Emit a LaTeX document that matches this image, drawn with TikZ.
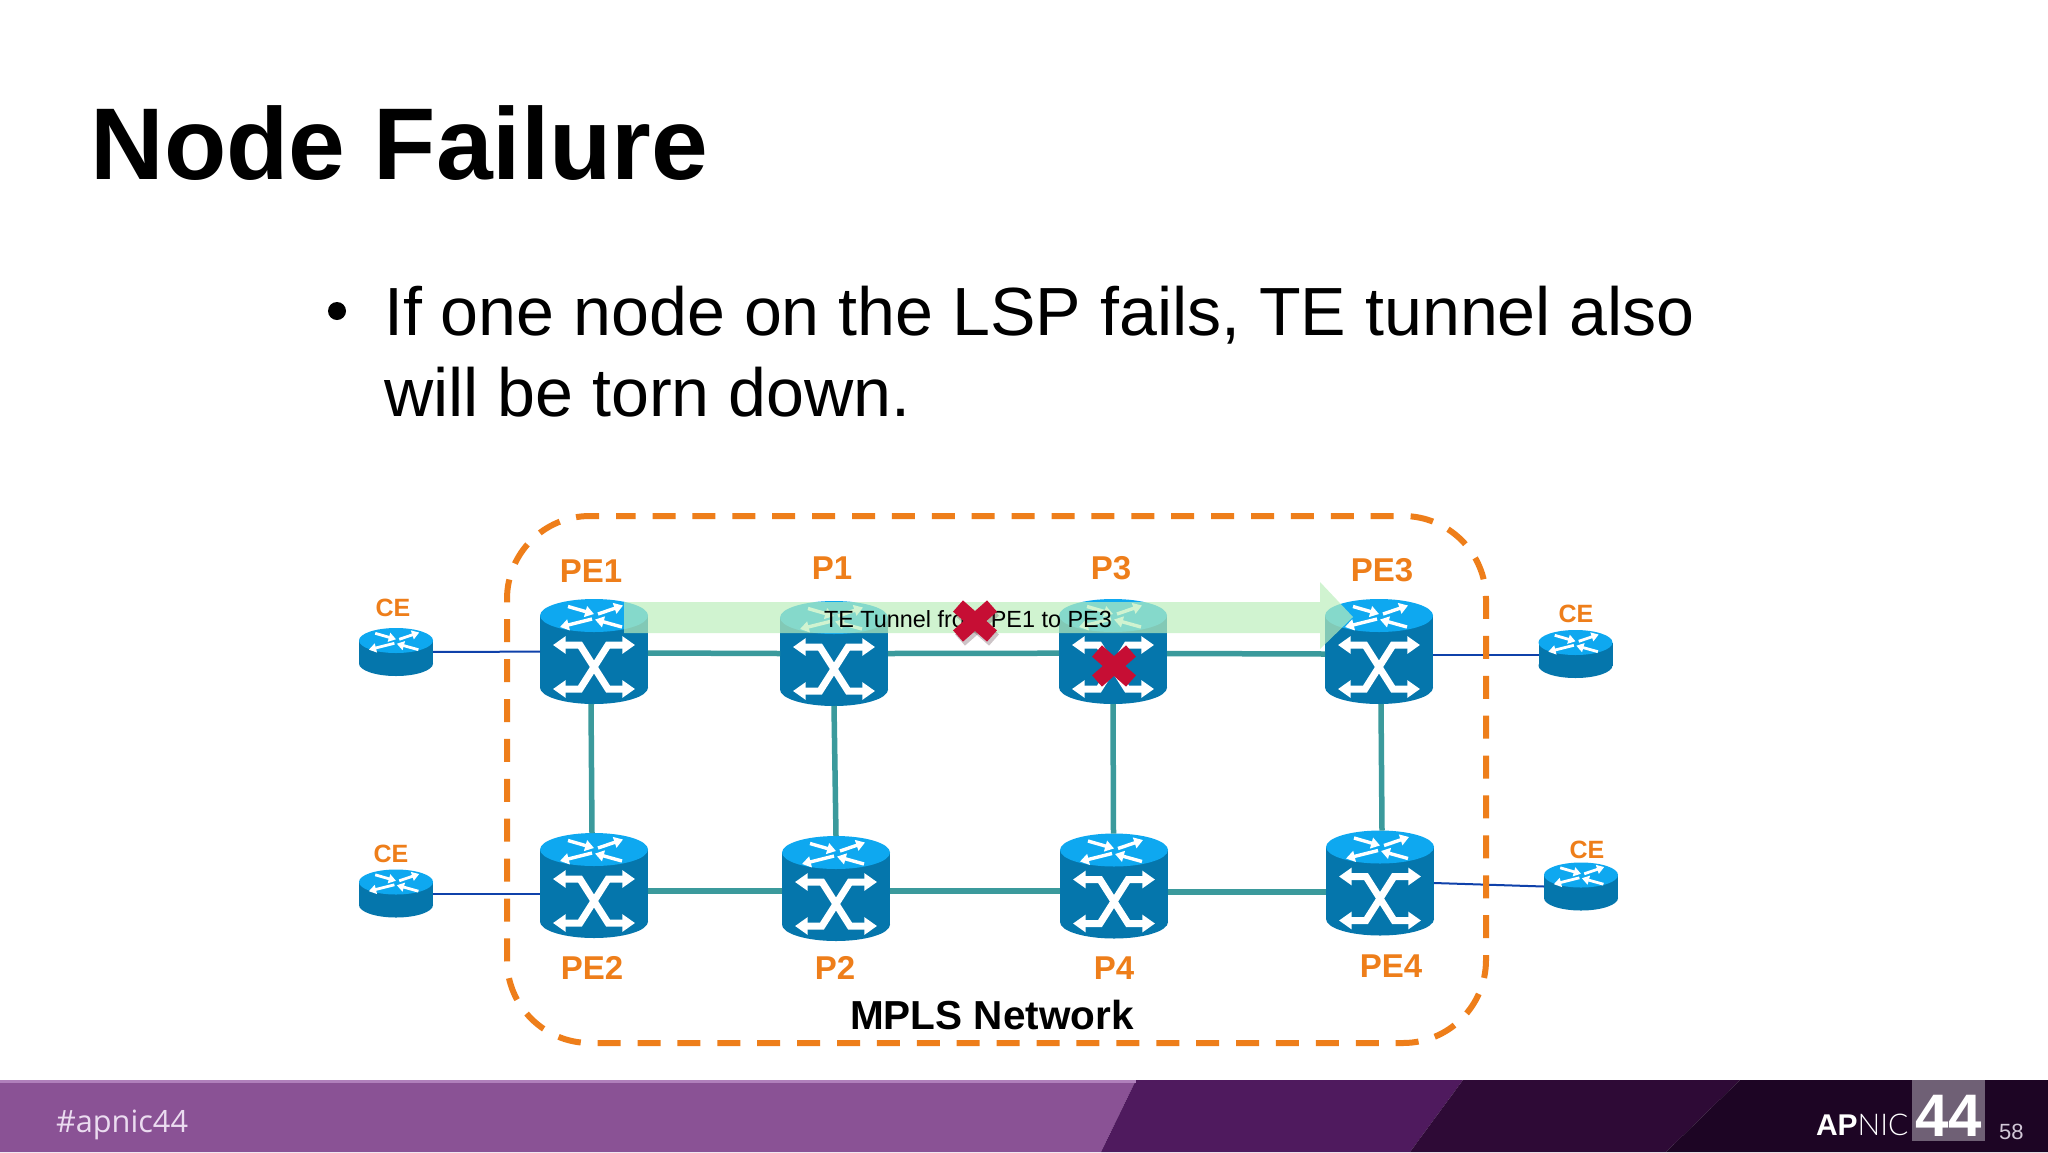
\documentclass[tikz,border=0pt]{standalone}
\usepackage{fontspec}
\setmainfont{Liberation Sans}
\newfontfamily\tagfont{Open Sans}
\newfontfamily\nicfont[UprightFont={* Light}]{Lato}
\usetikzlibrary{arrows.meta}
\definecolor{rtop}{RGB}{14,168,240}
\definecolor{rbody}{RGB}{5,118,172}
\definecolor{link}{RGB}{59,154,156}
\definecolor{cewire}{RGB}{15,65,170}
\definecolor{lbl}{RGB}{238,126,26}
\definecolor{xred}{RGB}{198,14,52}
\definecolor{xshade}{RGB}{90,60,70}
\definecolor{tunnel}{RGB}{187,239,187}
\newcommand{\fs}[1]{\fontsize{#1}{#1}\selectfont}
\tikzset{
  x=1pt,y=-1pt,
  txt/.style={inner sep=0pt,outer sep=0pt,anchor=base},
  lab/.style={txt,text=lbl,font=\bfseries\fs{33}},
  celab/.style={txt,text=lbl,font=\bfseries\fs{25}},
  bigbox/.style={rectangle,inner sep=0pt,outer sep=0pt,minimum width=108pt,minimum height=105pt},
  smallbox/.style={rectangle,inner sep=0pt,outer sep=0pt,minimum width=74pt,minimum height=48pt},
  teal link/.style={draw=link,line width=5.5pt},
  blue link/.style={draw=cewire,line width=2pt},
  rarrow/.style={white,-{Triangle[length=0pt 2.6,width=0pt 3.2]}},
  xarrow/.style={white,{Triangle[length=0pt 1.8,width=0pt 2.4]}-{Triangle[length=0pt 1.8,width=0pt 2.4]},line join=miter},
}
\newcommand{\toparrows}[1]{%
  \draw[rarrow,line width=#1] (-26,-9) -- (0,-1.5);
  \draw[rarrow,line width=#1] (4,-1.5) -- (29,-10);
  \draw[rarrow,line width=#1] (-2,3.5) -- (-34,11.5);
  \draw[rarrow,line width=#1] (28,11.5) -- (1,4);
}
\newcommand{\bigrouter}[3]{%
  \node[bigbox] (#1) at (#2,#3) {};
  \begin{scope}[shift={(#2,#3)}]
    \fill[rbody] (-54,-36) rectangle (54,36);
    \fill[rbody] (0,36) ellipse [x radius=54,y radius=16.5];
    \fill[rtop] (0,-36) ellipse [x radius=54,y radius=16.5];
    \begin{scope}[shift={(0,-36)}]\toparrows{3.4pt}\end{scope}
    \draw[xarrow,line width=7pt] (-41,-6.5) -- (-14,-6.5) -- (14,37.5) -- (41,37.5);
    \draw[xarrow,line width=7pt] (41,-6.5) -- (14,-6.5) -- (-14,37.5) -- (-41,37.5);
  \end{scope}}
\newcommand{\smallrouter}[3]{%
  \node[smallbox] (#1) at (#2,#3) {};
  \begin{scope}[shift={(#2,#3)}]
    \fill[rbody] (-37,-11.5) rectangle (37,11.5);
    \fill[rbody] (0,11.5) ellipse [x radius=37,y radius=12.5];
    \fill[rtop] (0,-11.5) ellipse [x radius=37,y radius=12.5];
    \begin{scope}[shift={(0,-11.5)},scale=.8]\toparrows{2.8pt}\end{scope}
  \end{scope}}
\newcommand{\failmark}[3]{%
  \begin{scope}[shift={(#1,#2)}]
    \draw[#3,line width=15pt] (-17,-15) -- (17,15);
    \draw[#3,line width=15pt] (17,-15) -- (-17,15);
  \end{scope}}
\begin{document}
\begin{tikzpicture}
\useasboundingbox (0,0) rectangle (2048,1152);
\fill[white] (0,0) rectangle (2048,1152);

% footer
\fill[color={rgb,255:red,138;green,82;blue,149}] (0,1080) -- (1136,1080) -- (1101,1152) -- (0,1152) -- cycle;
\fill[color={rgb,255:red,79;green,26;blue,94}] (1136,1080) -- (1463,1080) -- (1410,1152) -- (1101,1152) -- cycle;
\fill[color={rgb,255:red,46;green,10;blue,54}] (1463,1080) -- (1740,1080) -- (1666,1152) -- (1410,1152) -- cycle;
\fill[color={rgb,255:red,29;green,5;blue,36}] (1740,1080) -- (2048,1080) -- (2048,1152) -- (1666,1152) -- cycle;
\fill[color={rgb,255:red,176;green,128;blue,187}] (0,1080) rectangle (1136,1082.5);
\fill[color={rgb,255:red,111;green,96;blue,117}] (1912,1080) rectangle (1985,1141);
\node[txt,anchor=base west,text={rgb,255:red,235;green,220;blue,240},font=\tagfont\fs{30.7}] (tag) at (56,1132) {\#apnic44};
\node[txt,anchor=base west,text=white,font=\fs{30}] (apnic) at (1816,1135) {\textbf{AP}{\nicfont NIC}};
\node[txt,anchor=base west,text=white,font=\bfseries\fs{60}] (num) at (1915,1136) {44};
\node[txt,anchor=base west,text={rgb,255:red,210;green,200;blue,215},font=\fs{22}] (page) at (1999,1139) {58};

% title and text
\node[txt,anchor=base west,font=\bfseries\fs{102}] (title) at (90.5,179) {Node Failure};
\fill (337,311) circle (9);
\node[inner sep=0pt,anchor=north west,align=left,font=\fontsize{68.15}{81}\selectfont] (body) at (384,286) {If one node on the LSP fails, TE tunnel also\\will be torn down.};

% routers
\smallrouter{ceA}{396}{652}
\smallrouter{ceB}{396}{893.5}
\smallrouter{ceC}{1575.5}{654}
\smallrouter{ceD}{1581}{886.5}
\bigrouter{PEa}{594}{651.5}
\bigrouter{Pa}{834}{653.5}
\bigrouter{Pc}{1113}{651.5}
\bigrouter{PEc}{1379}{651.5}
\bigrouter{PEb}{594}{885.5}
\bigrouter{Pb}{836}{888.5}
\bigrouter{Pd}{1114}{886}
\bigrouter{PEd}{1380}{883}

% connectors
\draw[teal link] ([yshift=-1.5pt]PEa.east) -- (Pa.west);
\draw[teal link] (Pa.east) -- ([yshift=-1.7pt]Pc.west);
\draw[teal link] ([yshift=-2pt]Pc.east) -- ([yshift=-2.5pt]PEc.west);
\draw[teal link] ([yshift=-5.5pt]PEb.east) -- ([yshift=-2.5pt]Pb.west);
\draw[teal link] ([yshift=-2.5pt]Pb.east) -- ([yshift=-5pt]Pd.west);
\draw[teal link] ([yshift=-6pt]Pd.east) -- ([yshift=-9pt]PEd.west);
\draw[teal link] ([xshift=-3pt]PEa.south) -- ([xshift=-2pt]PEb.north);
\draw[teal link] (Pa.south) -- (Pb.north);
\draw[teal link] (Pc.south) -- ([xshift=-0.5pt]Pd.north);
\draw[teal link] ([xshift=2pt]PEc.south) -- ([xshift=2pt]PEd.north);
\draw[blue link] (ceA) -- (PEa);
\draw[blue link] (ceB) -- (PEb.west |- ceB);
\draw[blue link] ([yshift=-3pt]PEc.east) -- ([yshift=-.5pt]ceC.west);
\draw[blue link] (PEd.east) -- (ceD.west);

% labels
\node[lab] (lPEa) at (591,582) {PE1};
\node[lab] (lPa) at (832,579) {P1};
\node[lab] (lPc) at (1111,579) {P3};
\node[lab] (lPEc) at (1382,581) {PE3};
\node[lab] (lPEb) at (592,979) {PE2};
\node[lab] (lPb) at (835,979) {P2};
\node[lab] (lPd) at (1114,979) {P4};
\node[lab] (lPEd) at (1391,977) {PE4};
\node[celab] (lceA) at (393,616) {CE};
\node[celab] (lceB) at (391,862) {CE};
\node[celab] (lceC) at (1576,622) {CE};
\node[celab] (lceD) at (1587,858) {CE};
\node[txt,font=\bfseries\fs{40.5}] (mpls) at (992,1029) {MPLS Network};

% network boundary
\draw[lbl,line width=6pt,dash pattern=on 23pt off 16.9pt,rounded corners=83pt] (599,516) -- (507,516) -- (507,1043) -- (1486,1043) -- (1486,516) -- (616,516);

% tunnel
\fill[tunnel,fill opacity=.69] (624,602) -- (1320,602) -- (1320,582) -- (1353,617) -- (1320,649) -- (1320,633) -- (624,633) -- cycle;
\node[txt,anchor=base west,font=\fs{23.4}] (tunnel) at (824,627) {TE Tunnel from PE1 to PE3};

% failure marks
\begin{scope}[opacity=.3,shift={(2,4)}]\failmark{975}{621}{xshade}\end{scope}
\failmark{975}{621}{xred}
\failmark{1114}{666}{xred}
\end{tikzpicture}
\end{document}
